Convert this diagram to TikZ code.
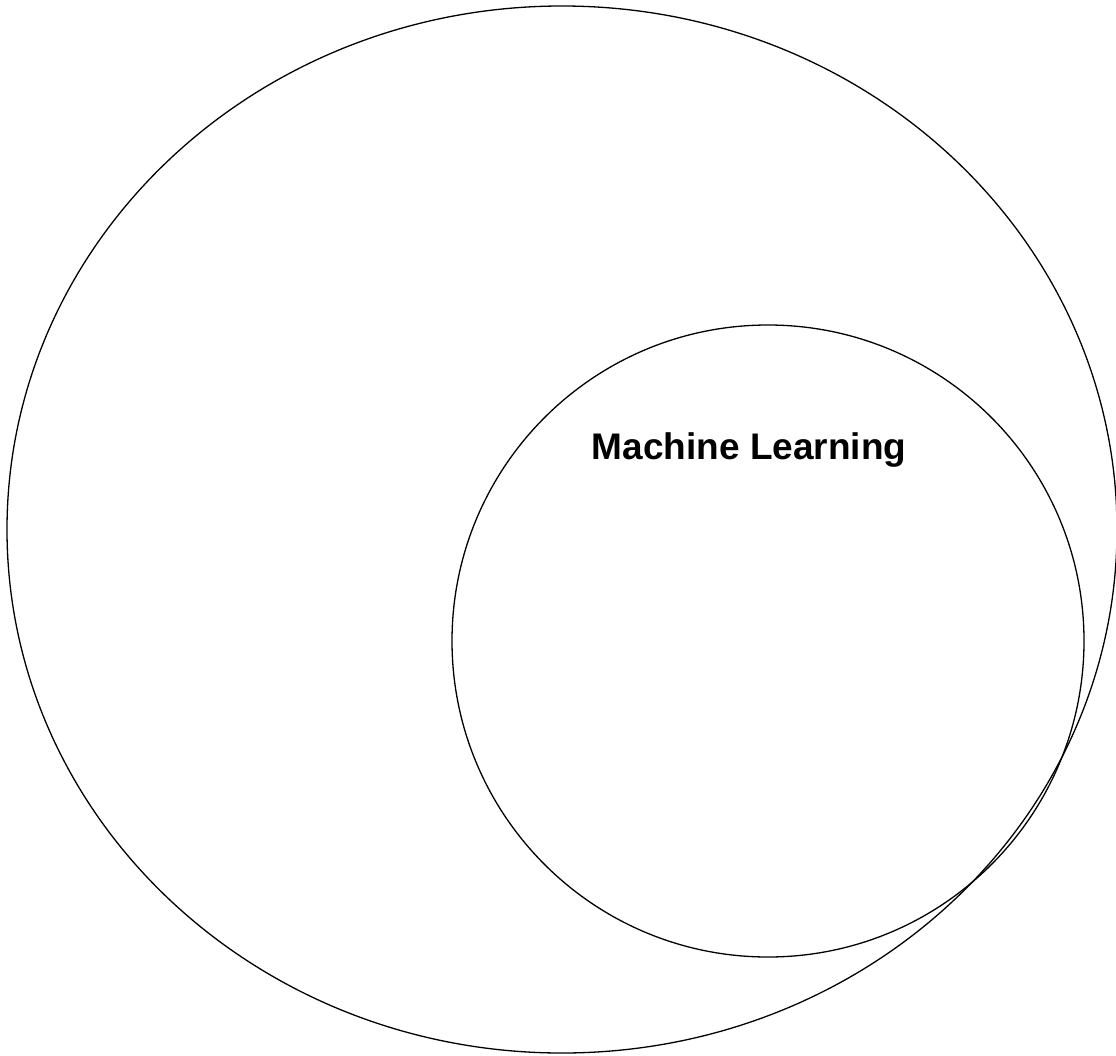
\documentclass[tikz,border=0pt]{standalone}
\usepackage{fontspec}
\setmainfont{Liberation Sans}
\usetikzlibrary{positioning}

\begin{document}
\begin{tikzpicture}[x=1pt, y=-1pt, line width=1.3pt]
    % Khung hình
    \useasboundingbox (0,0) rectangle (1116,1055);

    % Hình elip lớn bên ngoài
    \draw (562,529.5) ellipse (555 and 523.5);

    % Vòng tròn "Machine Learning" bên trong
    \draw (768,641) circle (316);
    \node[font=\fontsize{37}{44}\selectfont\bfseries, anchor=base] (ml) at (749,459) {Machine Learning};
\end{tikzpicture}
\end{document}
